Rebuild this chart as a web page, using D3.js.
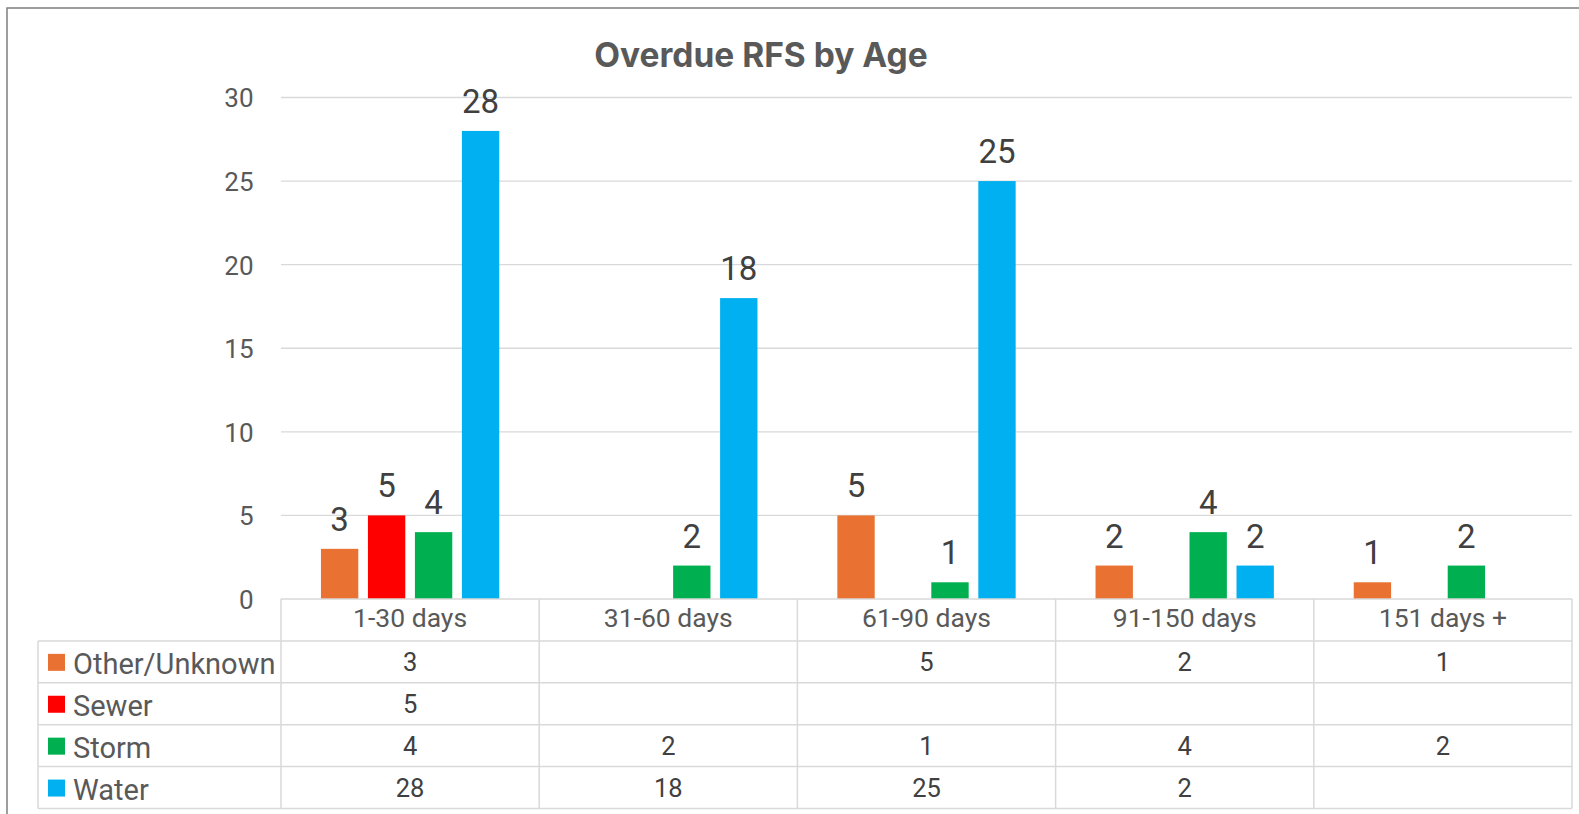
<!DOCTYPE html>
<html><head><meta charset="utf-8">
<script src="https://cdn.jsdelivr.net/npm/d3@7"></script>
<style>html,body{margin:0;padding:0;background:#fff;overflow:hidden}</style>
</head><body>
<svg id="chart" width="1579" height="814"></svg>
<script>
const title = "Overdue RFS by Age";
const categories = ["1-30 days","31-60 days","61-90 days","91-150 days","151 days +"];
const seriesNames = ["Other/Unknown","Sewer","Storm","Water"];
const otherValues = [3, null, 5, 2, 1];
const sewerValues = [5, null, null, null, null];
const stormValues = [4, 2, 1, 4, 2];
const waterValues = [28, 18, 25, 2, null];
const seriesColors = ["#E97132","#FF0000","#00B050","#00B0F0"];
const yTicks = [0,5,10,15,20,25,30];

const seriesValues = [otherValues, sewerValues, stormValues, waterValues];
const series = seriesNames.map((n,i)=>({name:n, values:seriesValues[i], color:seriesColors[i]}));

const svg = d3.select("#chart");
const W = 1579, H = 814;
const plotL = 281, plotR = 1572, plotT = 97.5, plotB = 599;
const rowH = 41.9;
const legendL = 38;

// outer frame
svg.append("rect").attr("x",7).attr("y",8).attr("width",W).attr("height",H)
  .attr("fill","#fff").attr("stroke","#7f7f7f").attr("stroke-width",1.5);

const x0 = d3.scaleBand().domain(categories).range([plotL, plotR]).paddingInner(0).paddingOuter(0);
const x1 = d3.scaleBand().domain(seriesNames).range([0, x0.bandwidth()]).paddingInner(0.205).paddingOuter(0.85);
const y = d3.scaleLinear().domain([0,30]).range([plotB, plotT]);

// gridlines
svg.append("g").selectAll("line").data(yTicks.filter(d=>d>0)).join("line")
  .attr("x1",plotL).attr("x2",plotR).attr("y1",d=>y(d)).attr("y2",d=>y(d))
  .attr("stroke","#d9d9d9").attr("stroke-width",1.3);

// y axis labels
const yAxis = d3.axisLeft(y).tickValues(yTicks).tickSize(0).tickPadding(0);
const ya = svg.append("g").attr("transform",`translate(${253.5},0)`).call(yAxis);
ya.select(".domain").remove();
ya.selectAll("text").attr("font-family","Roboto").attr("font-size",26).attr("fill","#595959").attr("dy","0.36em");

// title
svg.append("text").attr("x",761).attr("y",66.5).attr("text-anchor","middle")
  .attr("font-family","Inter").attr("font-weight","bold").attr("font-size",33.5)
  .attr("fill","#595959").text(title);

// bars
const groups = svg.append("g").selectAll("g").data(series).join("g").attr("fill",d=>d.color);
groups.selectAll("rect").data(s=>s.values.map((v,i)=>({v, cat:categories[i], name:s.name})).filter(d=>d.v!=null))
  .join("rect")
  .attr("x",d=>x0(d.cat)+x1(d.name)).attr("width",x1.bandwidth())
  .attr("y",d=>y(d.v)).attr("height",d=>y(0)-y(d.v));

// data labels
svg.append("g").selectAll("g").data(series).join("g")
  .selectAll("text").data(s=>s.values.map((v,i)=>({v, cat:categories[i], name:s.name})).filter(d=>d.v!=null))
  .join("text")
  .attr("x",d=>x0(d.cat)+x1(d.name)+x1.bandwidth()/2).attr("y",d=>y(d.v)-18)
  .attr("text-anchor","middle").attr("font-family","Roboto").attr("font-size",33).attr("fill","#404040")
  .text(d=>d.v);

// data table
const tbl = svg.append("g");
const lineColor = "#d9d9d9";
const tableBottom = plotB + rowH*5;
tbl.append("line").attr("x1",plotL).attr("x2",plotR).attr("y1",plotB).attr("y2",plotB).attr("stroke",lineColor).attr("stroke-width",1.5);
d3.range(1,6).forEach(r=>{
  tbl.append("line").attr("x1",legendL).attr("x2",plotR).attr("y1",plotB+rowH*r).attr("y2",plotB+rowH*r).attr("stroke",lineColor).attr("stroke-width",1.5);
});
categories.forEach(c=>{
  tbl.append("line").attr("x1",x0(c)).attr("x2",x0(c)).attr("y1",plotB).attr("y2",tableBottom).attr("stroke",lineColor).attr("stroke-width",1.5);
});
tbl.append("line").attr("x1",plotR).attr("x2",plotR).attr("y1",plotB).attr("y2",tableBottom).attr("stroke",lineColor).attr("stroke-width",1.5);
tbl.append("line").attr("x1",legendL).attr("x2",legendL).attr("y1",plotB+rowH).attr("y2",tableBottom).attr("stroke",lineColor).attr("stroke-width",1.5);

// category header
tbl.selectAll("text.cat").data(categories).join("text").attr("class","cat")
  .attr("x",d=>x0(d)+x0.bandwidth()/2).attr("y",627)
  .attr("text-anchor","middle").attr("font-family","Roboto").attr("font-size",26.5).attr("fill","#595959")
  .text(d=>d);

// rows
series.forEach((s,r)=>{
  const cy = plotB + rowH*(r+1) + rowH/2;
  tbl.append("rect").attr("x",48).attr("y",cy-8).attr("width",17).attr("height",17).attr("fill",s.color);
  tbl.append("text").attr("x",73).attr("y",cy+12.3).attr("font-family","Roboto").attr("font-size",29)
    .attr("fill","#595959").text(s.name);
  s.values.forEach((v,i)=>{
    if(v==null) return;
    tbl.append("text").attr("x",x0(categories[i])+x0.bandwidth()/2).attr("y",cy+9)
      .attr("text-anchor","middle").attr("font-family","Roboto").attr("font-size",25.5).attr("fill","#404040").text(v);
  });
});
</script>
</body></html>
